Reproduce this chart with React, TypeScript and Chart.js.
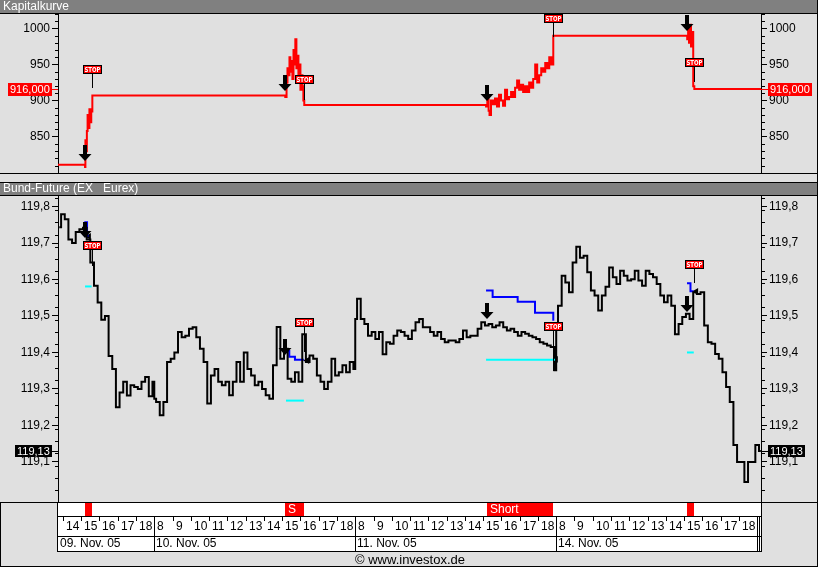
import React, { useEffect, useRef } from 'react';
import { Chart, registerables } from 'chart.js';

Chart.register(...registerables);

const FONT = '"Liberation Sans", Arial, Helvetica, sans-serif';

// ---------------- time axis ----------------
const dayLabels = ['09. Nov. 05', '10. Nov. 05', '11. Nov. 05', '14. Nov. 05'];
const hourLabels = [8, 9, 10, 11, 12, 13, 14, 15, 16, 17, 18];
const sessionOpen = 8;
const sessionLength = 11;
const viewStart = 5.73;
const viewEnd = 44.21;

// ---------------- Kapitalkurve ----------------
const equityMin = 800;
const equityMax = 1020;
const equityMajorTicks = [850, 900, 950, 1000];
const equityMinorStep = 10;
const equityTimes = [
  5.73, 7.21, 7.23, 7.27, 7.31, 7.35, 7.40, 7.45, 7.50, 7.55, 7.61,
  18.17, 18.24, 18.29, 18.35, 18.40, 18.45, 18.51, 18.56, 18.62, 18.67, 18.72, 18.78, 18.84, 18.89, 18.95, 19.00, 19.06, 19.11, 19.16, 19.21,
  29.16, 29.23, 29.30, 29.35, 29.43, 29.54, 29.65, 29.76, 29.87, 29.98, 30.09, 30.20, 30.31, 30.42, 30.53, 30.64, 30.75, 30.86, 30.97, 31.08,
  31.19, 31.30, 31.41, 31.52, 31.63, 31.74, 31.85, 31.96, 32.07, 32.18, 32.29, 32.40, 32.51, 32.62, 32.73, 32.84,
  40.17, 40.22, 40.27, 40.32, 40.38, 40.43, 40.50, 40.56, 44.21,
];
const equityValues = [
  811, 808, 845, 830, 858, 880, 862, 888, 870, 885, 907,
  905, 925, 945, 935, 960, 940, 955, 930, 970, 950, 985, 945, 962, 930, 950, 915, 935, 920, 900, 894,
  892, 902, 886, 880, 900, 895, 903, 892, 908, 900, 893, 915, 902, 905, 912, 905, 918, 928, 915, 922,
  912, 920, 912, 925, 918, 930, 950, 925, 935, 945, 940, 952, 945, 960, 950, 990,
  985, 1000, 980, 1005, 975, 995, 920, 916, 916,
];
const equityLast = 916;

// ---------------- Bund-Future ----------------
const priceMin = 118.99;
const priceMax = 119.829;
const priceMajorTicks = [119.1, 119.2, 119.3, 119.4, 119.5, 119.6, 119.7, 119.8];
const priceMinorStep = 1 / 30;
const priceStartHour = [13.8, 8, 8, 8];
const priceStepHours = 0.2;
const priceDay09 = [
  119.743, 119.779, 119.765, 119.71, 119.70, 119.73, 119.738, 119.742, 119.71, 119.647,
  119.583, 119.537, 119.49, 119.50, 119.39, 119.355, 119.25, 119.29, 119.32, 119.282,
  119.31, 119.305, 119.30, 119.32, 119.333, 119.28, 119.32,
];
const priceDay10 = [
  119.273, 119.264, 119.228, 119.264, 119.374, 119.383, 119.40, 119.456, 119.442, 119.446,
  119.465, 119.469, 119.442, 119.41, 119.374, 119.26, 119.337, 119.355, 119.32, 119.31,
  119.32, 119.283, 119.32, 119.374, 119.32, 119.40, 119.355, 119.337, 119.31, 119.32,
  119.30, 119.283, 119.273, 119.365, 119.47, 119.383, 119.41, 119.328, 119.32, 119.346,
  119.32, 119.45, 119.374, 119.392, 119.383, 119.337, 119.32, 119.30, 119.32, 119.383,
  119.337, 119.346, 119.365, 119.346, 119.374, 119.355,
];
const priceDay11 = [
  119.492, 119.547, 119.492, 119.478, 119.446, 119.456, 119.437, 119.456, 119.395, 119.428,
  119.424, 119.446, 119.46, 119.456, 119.446, 119.437, 119.46, 119.483, 119.492, 119.469,
  119.469, 119.456, 119.446, 119.456, 119.437, 119.428, 119.433, 119.433, 119.428, 119.437,
  119.46, 119.442, 119.446, 119.446, 119.465, 119.483, 119.474, 119.478, 119.469, 119.474,
  119.483, 119.469, 119.46, 119.465, 119.456, 119.446, 119.456, 119.451, 119.446, 119.442,
  119.437, 119.428, 119.424, 119.419, 119.415, 119.351,
];
const priceDay14 = [
  119.465, 119.528, 119.61, 119.592, 119.565, 119.647, 119.69, 119.66, 119.665, 119.62,
  119.57, 119.556, 119.515, 119.556, 119.58, 119.633, 119.606, 119.588, 119.624, 119.61,
  119.597, 119.601, 119.624, 119.597, 119.583, 119.624, 119.615, 119.606, 119.588, 119.556,
  119.538, 119.556, 119.528, 119.45, 119.478, 119.497, 119.506, 119.492, 119.565, 119.56,
  119.565, 119.474, 119.428, 119.424, 119.396, 119.383, 119.346, 119.305, 119.264, 119.146,
  119.10, 119.10, 119.045, 119.10, 119.10, 119.146, 119.13,
];
const priceByDay = [priceDay09, priceDay10, priceDay11, priceDay14];
const priceLast = 119.13;

// ---------------- trades ----------------
const tradeDay = [0, 1, 2, 3];
const tradeEntryHour = [15.21, 15.15, 15.19, 15.17];
const tradeExitHour = [15.61, 16.21, 18.84, 15.56];
const tradeSignal = ['', 'S', 'Short', ''];
const entryEquity = [816, 914, 899, 996];
const exitEquity = [918, 900.5, 988, 926];
const exitEquityLabel = [937.5, 922.8, 1007.6, 946];
const entryPrice = [119.714, 119.393, 119.493, 119.511];
const exitPrice = [119.638, 119.40, 119.35, 119.59];
const exitPriceLabel = [119.68, 119.471, 119.46, 119.63];

// trailing stop (blue)
const trailTimes = [
  [7.17, 7.32, 7.40],
  [18.30, 18.39, 18.70, 19.19],
  [29.16, 29.52, 30.89, 31.84, 32.84],
  [40.16, 40.35, 40.53],
];
const trailValues = [
  [119.757, 119.72, 119.72],
  [119.404, 119.388, 119.38, 119.38],
  [119.57, 119.552, 119.539, 119.509, 119.487],
  [119.59, 119.568, 119.568],
];
// target (cyan)
const targetFrom = [7.21, 18.21, 29.16, 40.16];
const targetTo = [7.57, 19.19, 32.93, 40.53];
const targetValue = [119.581, 119.268, 119.38, 119.40];
// exit marks
const exitMarkTimes = [7.42, 19.37, 32.98, 40.66];
const exitMarkValues = [119.718, 119.378, 119.381, 119.567];

function dayT(day: number, hour: number) {
  return day * sessionLength + (hour - sessionOpen);
}

function fmtComma(v: number, d: number) {
  return v.toFixed(d).replace('.', ',');
}

function drawArrow(ctx: CanvasRenderingContext2D, x: number, y: number) {
  const cx = Math.round(x);
  const cy = Math.round(y);
  ctx.fillStyle = '#000';
  ctx.fillRect(cx - 2, cy - 16, 4, 9);
  ctx.beginPath();
  ctx.moveTo(cx - 6.5, cy - 7);
  ctx.lineTo(cx + 6.5, cy - 7);
  ctx.lineTo(cx, cy);
  ctx.closePath();
  ctx.fill();
}

function drawStop(ctx: CanvasRenderingContext2D, x: number, yAnchor: number, yLabel: number) {
  const cx = Math.round(x);
  const lb = Math.round(yLabel);
  ctx.fillStyle = '#000';
  ctx.fillRect(cx, lb, 1, Math.max(0, Math.round(yAnchor) - lb));
  const bx = cx - 9;
  const by = lb - 9;
  ctx.fillRect(bx, by, 19, 9);
  ctx.fillStyle = '#ff0000';
  ctx.fillRect(bx + 1, by + 1, 17, 7);
  ctx.fillStyle = '#fff';
  ctx.font = `bold 9px "DejaVu Sans", ${FONT}`;
  const w = ctx.measureText('STOP').width;
  ctx.save();
  ctx.translate(cx + 0.5, by + 4.8);
  ctx.scale(16 / w, 0.85);
  ctx.textAlign = 'center';
  ctx.textBaseline = 'middle';
  ctx.fillText('STOP', 0, 0);
  ctx.restore();
}

function drawTag(ctx: CanvasRenderingContext2D, a: any, py: number, text: string, color: string, h: number) {
  ctx.font = `11px ${FONT}`;
  const w = Math.ceil(ctx.measureText(text).width) + 4;
  const top = Math.round(py - h / 2);
  const ly = Math.round(py);
  ctx.fillStyle = color;
  ctx.fillRect(a.left - 6 - w, top, w, h);
  ctx.fillRect(a.left - 6, ly, 6, 1);
  ctx.fillRect(a.right + 7, top, w, h);
  ctx.fillRect(a.right, ly, 7, 1);
  ctx.fillStyle = '#fff';
  ctx.textAlign = 'left';
  ctx.textBaseline = 'middle';
  ctx.fillText(text, a.left - 6 - w + 2, top + h / 2 + 0.5);
  ctx.fillText(text, a.right + 9, top + h / 2 + 0.5);
}

function drawMinorTicks(ctx: CanvasRenderingContext2D, a: any, scale: any, min: number, max: number, step: number, majors: number[]) {
  ctx.fillStyle = '#000';
  const n = Math.round((max - min) / step) + 1;
  for (let i = 0; i <= n; i++) {
    const v = min + i * step;
    if (majors.some((m) => Math.abs(m - v) < step / 4)) continue;
    const py = Math.round(scale.getPixelForValue(v));
    if (py < a.top || py > a.bottom) continue;
    ctx.fillRect(a.left - 3, py, 3, 1);
    ctx.fillRect(a.right + 1, py, 3, 1);
  }
}

function yAxis(position: 'left' | 'right', min: number, max: number, majors: number[], digits: number, width: number) {
  return {
    position,
    min,
    max,
    afterFit: (s: any) => {
      s.width = width;
    },
    afterBuildTicks: (s: any) => {
      s.ticks = majors.map((v) => ({ value: v }));
    },
    ticks: {
      color: '#000',
      padding: 2,
      font: { family: FONT, size: 12 },
      callback: (v: any) => (digits === 0 ? String(Math.round(v)) : fmtComma(Number(v), digits)),
    },
    grid: {
      drawOnChartArea: false,
      drawTicks: true,
      tickLength: 6,
      tickColor: '#000',
      color: '#000',
    },
    border: { display: true, color: '#000', width: 1 },
  };
}

const topPlugin = {
  id: 'topPanel',
  beforeDraw(chart: any) {
    const { ctx, width, height, chartArea: a } = chart;
    ctx.save();
    ctx.fillStyle = '#e0e0e0';
    ctx.fillRect(0, 0, width, height);
    ctx.fillStyle = '#808080';
    ctx.fillRect(0, 0, width, 13);
    ctx.fillStyle = '#000';
    ctx.fillRect(0, 13, width, 1);
    ctx.fillRect(0, Math.round(a.bottom), width, 1);
    ctx.fillRect(width - 1, 0, 1, height);
    ctx.fillStyle = '#fff';
    ctx.font = `12px ${FONT}`;
    ctx.textBaseline = 'middle';
    ctx.fillText('Kapitalkurve', 3, 7);
    ctx.restore();
  },
  afterDraw(chart: any) {
    const { ctx, chartArea: a, scales } = chart;
    const xs = scales.x;
    const ys = scales.yL;
    ctx.save();
    drawMinorTicks(ctx, a, ys, equityMin, equityMax, equityMinorStep, equityMajorTicks);
    for (let i = 0; i < tradeDay.length; i++) {
      const te = dayT(tradeDay[i], tradeEntryHour[i]);
      const tx = dayT(tradeDay[i], tradeExitHour[i]);
      drawArrow(ctx, xs.getPixelForValue(te), ys.getPixelForValue(entryEquity[i]));
      drawStop(ctx, xs.getPixelForValue(tx), ys.getPixelForValue(exitEquity[i]), ys.getPixelForValue(exitEquityLabel[i]));
    }
    drawTag(ctx, a, ys.getPixelForValue(equityLast), fmtComma(equityLast, 3), '#ff0000', 13);
    ctx.restore();
  },
};

const bottomPlugin = {
  id: 'bottomPanel',
  beforeDraw(chart: any) {
    const { ctx, width, height } = chart;
    ctx.save();
    ctx.fillStyle = '#e0e0e0';
    ctx.fillRect(0, 0, width, height);
    ctx.fillStyle = '#808080';
    ctx.fillRect(0, 0, width, 13);
    ctx.fillStyle = '#000';
    ctx.fillRect(0, 0, width, 1);
    ctx.fillRect(0, 13, width, 1);
    ctx.fillRect(width - 1, 0, 1, height);
    ctx.fillStyle = '#fff';
    ctx.font = `12px ${FONT}`;
    ctx.textBaseline = 'middle';
    ctx.fillText('Bund-Future (EX', 3, 7);
    ctx.fillText('Eurex)', 103, 7);
    ctx.restore();
  },
  afterDraw(chart: any) {
    const { ctx, width, height, chartArea: a, scales } = chart;
    const xs = scales.x;
    const ys = scales.yL;
    const L = Math.round(a.left);
    const R = Math.round(a.right);
    ctx.save();
    drawMinorTicks(ctx, a, ys, priceMin, priceMax, priceMinorStep, priceMajorTicks);
    for (let i = 0; i < tradeDay.length; i++) {
      const te = dayT(tradeDay[i], tradeEntryHour[i]);
      const tx = dayT(tradeDay[i], tradeExitHour[i]);
      drawArrow(ctx, xs.getPixelForValue(te), ys.getPixelForValue(entryPrice[i]));
      drawStop(ctx, xs.getPixelForValue(tx), ys.getPixelForValue(exitPrice[i]), ys.getPixelForValue(exitPriceLabel[i]));
    }
    drawTag(ctx, a, ys.getPixelForValue(priceLast), fmtComma(priceLast, 2), '#000', 12);

    // ----- bottom strips -----
    const b = Math.round(a.bottom);
    ctx.fillStyle = '#e0e0e0';
    ctx.fillRect(0, b + 1, width, height - b - 1);
    ctx.fillStyle = '#fff';
    ctx.fillRect(L, b + 1, R - L, 48);
    ctx.fillStyle = '#000';
    ctx.fillRect(0, b, width, 1);
    ctx.fillRect(L, b + 14, R - L, 1);
    ctx.fillRect(L, b + 34, R - L, 1);
    ctx.fillRect(L, b + 49, R - L, 1);
    ctx.fillRect(L - 1, b, 1, 50);
    ctx.fillRect(R, b, 1, 50);
    ctx.fillRect(0, b, 1, height - b);
    ctx.fillRect(width - 1, 0, 1, height);
    ctx.fillRect(0, height - 1, width, 1);

    // signal strip
    ctx.font = `12px ${FONT}`;
    ctx.textBaseline = 'middle';
    ctx.textAlign = 'left';
    for (let i = 0; i < tradeDay.length; i++) {
      const x0 = Math.round(xs.getPixelForValue(dayT(tradeDay[i], tradeEntryHour[i])));
      const x1 = Math.round(xs.getPixelForValue(dayT(tradeDay[i], tradeExitHour[i])));
      ctx.fillStyle = '#ff0000';
      ctx.fillRect(x0, b + 1, x1 - x0, 13);
      if (tradeSignal[i]) {
        ctx.fillStyle = '#fff';
        ctx.fillText(tradeSignal[i], x0 + 3, b + 8);
      }
    }

    // hour row + date row
    for (let d = 0; d < dayLabels.length; d++) {
      for (const h of hourLabels) {
        const t = dayT(d, h);
        if (t < viewStart) continue;
        const px = Math.round(xs.getPixelForValue(t));
        ctx.fillStyle = '#000';
        if (h !== sessionOpen) ctx.fillRect(px, b + 15, 1, 4);
        ctx.fillText(String(h), px + 3, b + 25);
      }
      const ds = Math.max(viewStart, dayT(d, sessionOpen));
      const dx = Math.round(xs.getPixelForValue(ds));
      ctx.fillStyle = '#000';
      if (d > 0) ctx.fillRect(dx, b + 14, 1, 35);
      ctx.fillText(dayLabels[d], dx + 2, b + 42);
    }
    const endX = Math.round(xs.getPixelForValue(dayT(dayLabels.length, sessionOpen)));
    ctx.fillRect(endX, b + 14, 1, 35);
    ctx.fillRect(endX + 2, b + 14, 1, 35);

    // copyright
    ctx.font = `13px ${FONT}`;
    ctx.textAlign = 'center';
    ctx.fillStyle = '#000';
    ctx.fillText('\u00a9 www.investox.de', 410, b + 58);
    ctx.restore();
  },
};

export default function App() {
  const topRef = useRef<HTMLCanvasElement | null>(null);
  const botRef = useRef<HTMLCanvasElement | null>(null);

  useEffect(() => {
    const equityPoints = equityTimes.map((t, i) => ({ x: t, y: equityValues[i] }));
    const pricePoints: { x: number; y: number }[] = [];
    priceByDay.forEach((vals, d) => {
      vals.forEach((v, i) => pricePoints.push({ x: dayT(d, priceStartHour[d] + i * priceStepHours), y: v }));
    });

    const top = new Chart(topRef.current as HTMLCanvasElement, {
      type: 'line',
      data: {
        datasets: [
          {
            data: equityPoints,
            borderColor: '#ff0000',
            borderWidth: 2,
            stepped: 'before',
            pointRadius: 0,
            yAxisID: 'yL',
          } as any,
        ],
      },
      options: {
        animation: false,
        responsive: false,
        devicePixelRatio: 1,
        layout: { padding: { top: 14, bottom: 4, left: 0, right: 0 } },
        plugins: { legend: { display: false }, tooltip: { enabled: false } },
        scales: {
          x: { type: 'linear', min: viewStart, max: viewEnd, display: false },
          yL: yAxis('left', equityMin, equityMax, equityMajorTicks, 0, 58) as any,
          yR: yAxis('right', equityMin, equityMax, equityMajorTicks, 0, 57) as any,
        },
      },
      plugins: [topPlugin],
    });

    const trailSets = trailTimes.map((ts, k) => ({
      data: ts.map((t, i) => ({ x: t, y: trailValues[k][i] })),
      borderColor: '#0000ff',
      borderWidth: 2,
      stepped: 'before',
      pointRadius: 0,
      yAxisID: 'yL',
    }));
    const targetSets = targetFrom.map((t0, k) => ({
      data: [
        { x: t0, y: targetValue[k] },
        { x: targetTo[k], y: targetValue[k] },
      ],
      borderColor: '#00ffff',
      borderWidth: 2,
      pointRadius: 0,
      yAxisID: 'yL',
    }));

    const bottom = new Chart(botRef.current as HTMLCanvasElement, {
      type: 'line',
      data: {
        datasets: [
          ...targetSets,
          {
            data: pricePoints,
            borderColor: '#000',
            borderWidth: 2,
            stepped: 'middle',
            pointRadius: 0,
            yAxisID: 'yL',
          },
          ...trailSets,
          {
            data: exitMarkTimes.map((t, i) => ({ x: t, y: exitMarkValues[i] })),
            showLine: false,
            pointStyle: 'triangle',
            pointRotation: -90,
            pointRadius: 4,
            backgroundColor: '#000',
            borderColor: '#000',
            borderWidth: 0,
            yAxisID: 'yL',
          },
        ] as any,
      },
      options: {
        animation: false,
        responsive: false,
        devicePixelRatio: 1,
        layout: { padding: { top: 14, bottom: 65, left: 0, right: 0 } },
        plugins: { legend: { display: false }, tooltip: { enabled: false } },
        scales: {
          x: { type: 'linear', min: viewStart, max: viewEnd, display: false },
          yL: yAxis('left', priceMin, priceMax, priceMajorTicks, 1, 58) as any,
          yR: yAxis('right', priceMin, priceMax, priceMajorTicks, 1, 57) as any,
        },
      },
      plugins: [bottomPlugin],
    });

    return () => {
      top.destroy();
      bottom.destroy();
    };
  }, []);

  return (
    <div style={{ position: 'absolute', left: 0, top: 0, width: 818, height: 567, background: '#e0e0e0' }}>
      <canvas ref={topRef} width={818} height={182} style={{ position: 'absolute', left: 0, top: 0, display: 'block' }} />
      <canvas ref={botRef} width={818} height={385} style={{ position: 'absolute', left: 0, top: 182, display: 'block' }} />
    </div>
  );
}
